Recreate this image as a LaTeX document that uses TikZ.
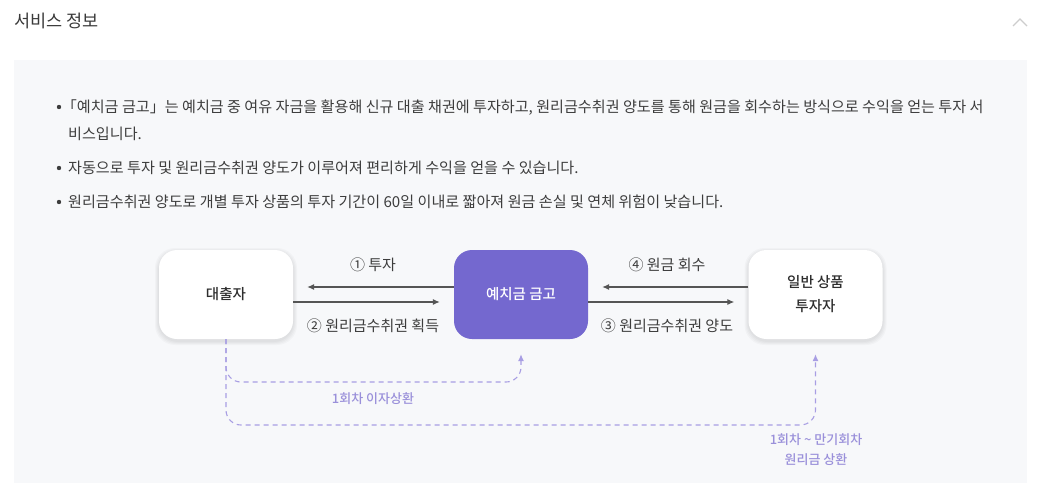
\documentclass[tikz,border=0pt]{standalone}
\usepackage{fontspec}
\setmainfont{Noto Sans CJK KR}
\newfontfamily\krmed{Noto Sans CJK KR Medium}
\usetikzlibrary{arrows.meta}
\definecolor{panel}{HTML}{F7F8FA}
\definecolor{headc}{HTML}{3A3A3A}
\definecolor{bodytext}{HTML}{3D3D3D}
\definecolor{boxtext}{HTML}{2E2E2E}
\definecolor{purp}{HTML}{7468CF}
\definecolor{arrowgray}{HTML}{555555}
\definecolor{dashc}{HTML}{A89EE3}
\definecolor{dashtext}{HTML}{9A90DA}
\definecolor{chevc}{HTML}{CDCDCD}
\begin{document}
\begin{tikzpicture}[x=1pt,y=-1pt,
  box/.style={rounded corners=18pt, minimum width=134pt, minimum height=89pt, inner sep=0pt, align=center, font=\krmed\fontsize{14.5}{24}\selectfont, text=boxtext},
  whitebox/.style={box, fill=white},
  purplebox/.style={box, fill=purp, text=white},
  shade1/.style={fill=black, opacity=0.025, rounded corners=20pt},
  flow/.style={draw=arrowgray, line width=1.1pt, -{Latex[length=7pt,width=6pt]}, shorten >=14pt},
  lbl/.style={inner sep=0pt, text height=11pt, text depth=0pt, font=\fontsize{15}{18}\selectfont, text=bodytext},
  pay/.style={draw=dashc, line width=1.1pt, dash pattern=on 5pt off 4pt, rounded corners=15pt, -{Latex[length=7pt,width=6pt]}, shorten >=15pt},
  paylbl/.style={inner sep=0pt, font=\krmed\fontsize{13}{20}\selectfont, text=dashtext, align=center},
  btext/.style={anchor=west, inner sep=0pt, text height=11pt, text depth=0pt, font=\fontsize{15.1}{18}\selectfont, text=bodytext},
  dot/.style={fill=bodytext}
]
\useasboundingbox (0,0) rectangle (1042,483);
\fill[white] (0,0) rectangle (1042,483);
% header
\node[anchor=west, inner sep=0pt, text height=13pt, text depth=0pt, font=\fontsize{17.5}{21}\selectfont, text=headc] (title) at (14,21) {서비스 정보};
\draw[chevc, line width=1.1pt] (1013,26) -- (1020,19) -- (1027,26);
% panel
\fill[panel] (14,60) rectangle (1027,483);
% bullets
\fill[dot] (59,107) circle (2.2pt);
\fill[dot] (59,168) circle (2.2pt);
\fill[dot] (59,202) circle (2.2pt);
\node[btext] (l1) at (68,107) {\hspace{-0.42em}「예치금 금고」는 예치금 중 여유 자금을 활용해 신규 대출 채권에 투자하고, 원리금수취권 양도를 통해 원금을 회수하는 방식으로 수익을 얻는 투자 서};
\node[btext] (l1b) at (68,134) {비스입니다.};
\node[btext] (l2) at (68,168) {자동으로 투자 및 원리금수취권 양도가 이루어져 편리하게 수익을 얻을 수 있습니다.};
\node[btext] (l3) at (68,202) {원리금수취권 양도로 개별 투자 상품의 투자 기간이 60일 이내로 짧아져 원금 손실 및 연체 위험이 낮습니다.};
% soft shadows
\foreach \cx in {226,815.5}{
  \foreach \g in {1,2,3,4}{
    \fill[shade1] (\cx-67-\g,250-\g+2) rectangle (\cx+67+\g,339+\g+2);
  }
}
% boxes
\node[whitebox] (dae) at (226,294.5) {대출자};
\node[purplebox] (ye) at (521,294.5) {예치금 금고};
\node[whitebox] (tuja) at (815.5,294.5) {일반 상품\\투자자};
% flows
\draw[flow] ([yshift=7.5pt]ye.west) -- ([yshift=7.5pt]dae.east);
\draw[flow] ([yshift=-7.5pt]dae.east) -- ([yshift=-7.5pt]ye.west);
\draw[flow] ([yshift=7.5pt]tuja.west) -- ([yshift=7.5pt]ye.east);
\draw[flow] ([yshift=-7.5pt]ye.east) -- ([yshift=-7.5pt]tuja.west);
\node[lbl] (f1) at (373,265) {① 투자};
\node[lbl] (f2) at (373,326) {② 원리금수취권 획득};
\node[lbl] (f4) at (667,265) {④ 원금 회수};
\node[lbl] (f3) at (667,326) {③ 원리금수취권 양도};
% repayments
\coordinate (p1) at (373,382);
\coordinate (p2) at (520,425);
\draw[pay] (dae.south) |- (p1) -| (ye.south);
\draw[pay] (dae.south) |- (p2) -| (tuja.south);
\node[paylbl] (m1) at (373,399) {1회차 이자상환};
\node[paylbl] (m2) at (816,450) {1회차 \textasciitilde{} 만기회차\\원리금 상환};
\end{tikzpicture}
\end{document}
